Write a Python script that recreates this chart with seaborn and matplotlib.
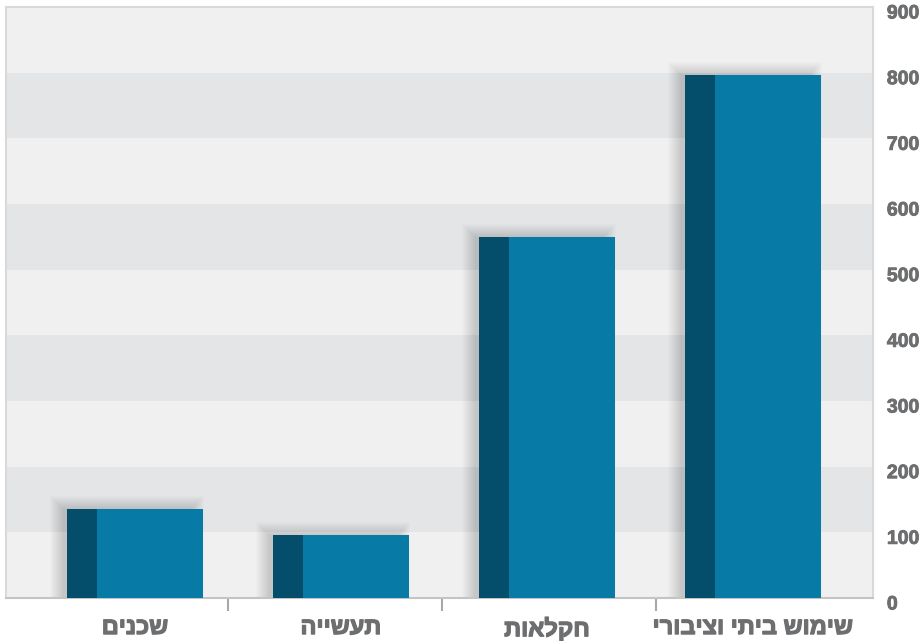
import numpy as np
import matplotlib
matplotlib.use('Agg')
import matplotlib.pyplot as plt
import seaborn as sns
from matplotlib.patches import Rectangle
from matplotlib.transforms import ScaledTranslation
import matplotlib.patheffects as pe

# data
categories = ['שכנים', 'תעשייה', 'חקלאות', 'שימוש ביתי וציבורי']
values = [136, 96, 549, 797]
yticks = [0, 100, 200, 300, 400, 500, 600, 700, 800, 900]

plt.rcParams['font.family'] = ['Liberation Sans', 'DejaVu Sans']

main_color = '#077aa6'
dark_color = '#044e6c'
text_color = '#6d6e70'

fig = plt.figure(figsize=(9.19, 6.41), dpi=100)
ax = fig.add_axes([6 / 919, 43 / 641, 867 / 919, 591 / 641])
ax.set_facecolor('#f0f0f0')

xmin, xmax = -0.626, 3.583
ax.set_xlim(xmin, xmax)
ax.set_ylim(0, 900)

# alternating horizontal bands
for lo, hi in zip(yticks[:-1], yticks[1:]):
    if (lo // 100) % 2 == 1:
        ax.axhspan(lo, hi, color='#e4e5e7', zorder=0, lw=0)

bar_w = 0.66
dark_w = 0.146
ux = (xmax - xmin) / 867   # data units per pixel
uy = 900 / 591

# soft drop shadow behind each bar (offset up-left, blurred by layering)
for i, v in enumerate(values):
    x0 = i - bar_w / 2
    for e in np.linspace(-4, 9, 14):
        ax.add_patch(Rectangle((x0 - (8 + e) * ux, -20), bar_w + 2 * e * ux,
                               v + 20 + (4 + e) * uy, color='black',
                               alpha=0.012, lw=0, zorder=1))

sns.barplot(x=categories, y=values, order=categories, color=main_color,
            width=bar_w, saturation=1, ax=ax, zorder=3)
ax.bar(np.arange(len(values)) - bar_w / 2 + dark_w / 2, values, width=dark_w,
       color=dark_color, zorder=4, lw=0)
ax.set_xlim(xmin, xmax)

for side in ['left', 'top', 'right']:
    ax.spines[side].set_color('#d9d9d9')
    ax.spines[side].set_linewidth(1.5)
ax.spines['bottom'].set_color('#c4c4c4')
ax.spines['bottom'].set_linewidth(1.5)

# x labels (visual order for RTL text)
ax.set_xticks(range(len(categories)))
ax.set_xticklabels([c[::-1] for c in categories], fontsize=17,
                   fontweight='bold', color=text_color)
for lab in ax.get_xticklabels():
    lab.set_path_effects([pe.withStroke(linewidth=0.9, foreground=text_color)])
ax.set_xticks([0.45, 1.49, 2.53], minor=True)
ax.tick_params(axis='x', which='major', length=0, pad=13)
ax.tick_params(axis='x', which='minor', length=9, width=1.5, color='#a8a8a8')

ax.yaxis.tick_right()
ax.set_yticks(yticks)
ax.set_yticklabels([str(t) for t in yticks], fontsize=14, fontweight='bold',
                   color=text_color, ha='left')
ax.tick_params(axis='y', length=0, pad=10)
off = ScaledTranslation(0, -5 / 100, fig.dpi_scale_trans)
for lab in ax.get_yticklabels():
    lab.set_transform(lab.get_transform() + off)
    lab.set_path_effects([pe.withStroke(linewidth=0.6, foreground=text_color)])

ax.set_xlabel('')
ax.set_ylabel('')

fig.savefig('out.png', dpi=100)
